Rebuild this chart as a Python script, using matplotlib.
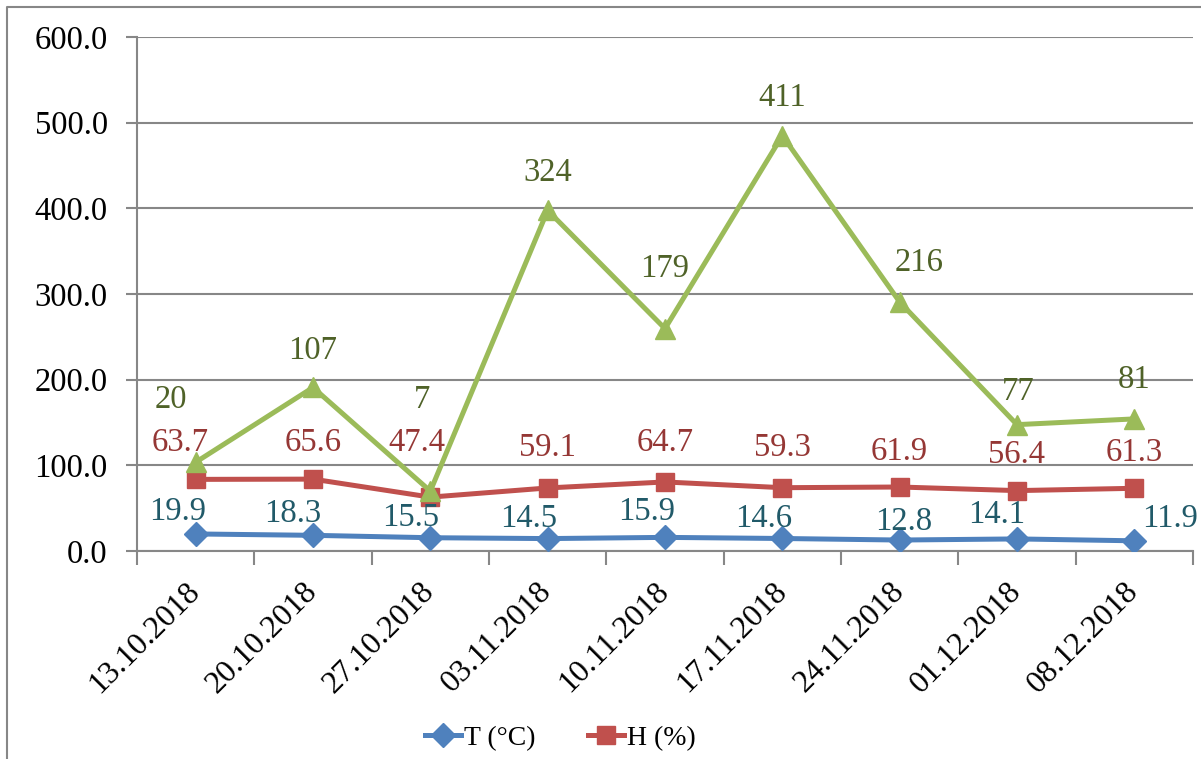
import numpy as np
import matplotlib.pyplot as plt
from matplotlib.lines import Line2D

plt.rcParams['font.family'] = ['Liberation Serif', 'DejaVu Serif']

dates = ['13.10.2018', '20.10.2018', '27.10.2018', '03.11.2018', '10.11.2018',
         '17.11.2018', '24.11.2018', '01.12.2018', '08.12.2018']
temp = [19.9, 18.3, 15.5, 14.5, 15.9, 14.6, 12.8, 14.1, 11.9]
humid = [63.7, 65.6, 47.4, 59.1, 64.7, 59.3, 61.9, 56.4, 61.3]
rain = [20, 107, 7, 324, 179, 411, 216, 77, 81]

# label offsets in pixels (dx, dy) from each point
temp_off = [(-18, 22), (-20, 22), (-20, 20), (-19, 20), (-18, 26),
            (-19, 20), (4, 18), (-20, 24), (36, 22)]
humid_off = [(-15, 37), (0, 36), (-13, 54), (0, 40), (0, 39),
             (0, 40), (0, 35), (0, 36), (0, 36)]
rain_off = [(-25, 62), (0, 37), (-8, 91), (0, 38), (0, 60),
            (0, 38), (19, 39), (1, 33), (0, 39)]

# stacked lines, like an Excel stacked line chart
t = np.array(temp)
h = t + np.array(humid)
r = h + np.array(rain)
x = np.arange(len(dates))

fig = plt.figure(figsize=(12.01, 7.59), dpi=100)
ax = fig.add_axes([137 / 1201, 1 - 551 / 759, 1056 / 1201, 514 / 759])

grey = '#878787'
ax.plot(x, t, color='#4F81BD', lw=3.6, marker='D', ms=12, label='T (°C)', zorder=3)
ax.plot(x, h, color='#C0504D', lw=3.6, marker='s', ms=13, label='H (%)', zorder=3)
ax.plot(x, r, color='#9BBB59', lw=3.6, marker='^', ms=14, zorder=3)

def put_labels(ys, vals, offs, color, fmt):
    for xi, yi, v, (dx, dy) in zip(x, ys, vals, offs):
        ax.annotate(fmt.format(v), (xi, yi), xytext=(dx, dy), textcoords='offset pixels',
                    ha='center', va='center', fontsize=23.5, color=color, zorder=4)

put_labels(t, temp, temp_off, '#215A69', '{:.1f}')
put_labels(h, humid, humid_off, '#953735', '{:.1f}')
put_labels(r, rain, rain_off, '#4F6228', '{:d}')

ax.set_xlim(-0.5, len(dates) - 0.5)
ax.set_ylim(0, 600)
ax.set_yticks(np.arange(0, 601, 100))
ax.set_yticklabels(['{:.1f}'.format(v) for v in np.arange(0, 601, 100)], fontsize=23.5)
ax.yaxis.grid(True, color=grey, lw=1.5)
ax.set_axisbelow(True)

ax.set_xticks(x)
ax.set_xticklabels(dates, fontsize=23, rotation=45, ha='right', va='center',
                   rotation_mode='anchor')
ax.set_xticks(np.arange(-0.5, len(dates), 1), minor=True)
ax.tick_params(axis='x', which='major', length=0, pad=26)
ax.tick_params(axis='x', which='minor', length=10, color=grey, width=1.5)
ax.tick_params(axis='y', length=8, color=grey, width=1.5, pad=13)

for side in ['top', 'right']:
    ax.spines[side].set_visible(False)
for side in ['left', 'bottom']:
    ax.spines[side].set_color(grey)
    ax.spines[side].set_linewidth(1.5)

# outer chart frame
fig.add_artist(Line2D([7 / 1201, 7 / 1201, 1], [0, 1 - 7 / 759, 1 - 7 / 759],
                      transform=fig.transFigure, color=grey, lw=1.5))

fig.legend(loc='center left', bbox_to_anchor=(425 / 1201, 1 - 738 / 759), ncol=2,
           frameon=False, fontsize=20, handlelength=1.3, handletextpad=0.1,
           columnspacing=1.9, borderpad=0, borderaxespad=0)

fig.savefig('out.png', dpi=100)
